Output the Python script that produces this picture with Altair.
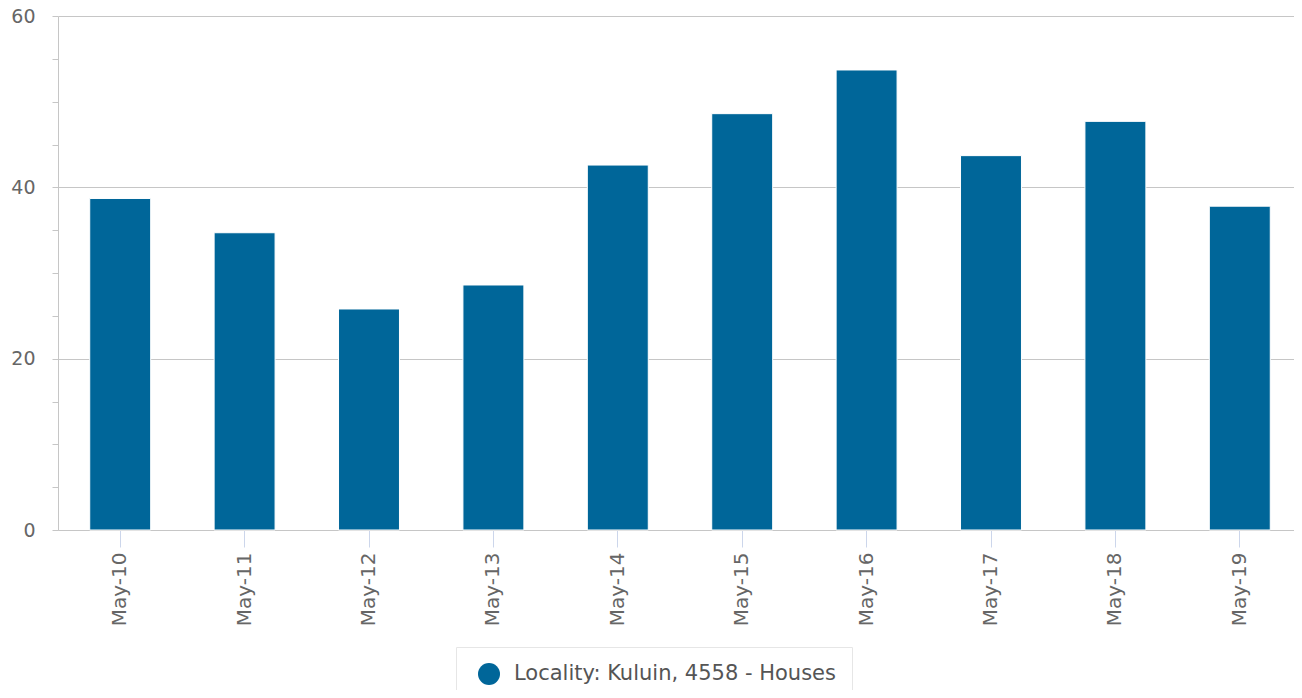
import altair as alt
import pandas as pd

months = ["May-10", "May-11", "May-12", "May-13", "May-14",
          "May-15", "May-16", "May-17", "May-18", "May-19"]
values = [38.7, 34.7, 25.8, 28.6, 42.6, 48.6, 53.7, 43.7, 47.7, 37.8]
series_name = "Locality: Kuluin, 4558 - Houses"
y_ticks = list(range(0, 65, 5))

df = pd.DataFrame({"month": months, "value": values, "series": [series_name] * len(months)})

FONT = "DejaVu Sans"

chart = alt.Chart(df).mark_bar(stroke="white", strokeWidth=1).encode(
    x=alt.X("month:N", sort=months,
            scale=alt.Scale(paddingInner=0.51, paddingOuter=0.255),
            axis=alt.Axis(labelAngle=-90, tickSize=17, tickColor="#ccd6eb",
                          domainColor="#c6c6c6", labelFontSize=20, labelColor="#666666",
                          labelFont=FONT, labelPadding=5, title=None, grid=False)),
    y=alt.Y("value:Q",
            scale=alt.Scale(domain=[0, 60], nice=False),
            axis=alt.Axis(values=y_ticks,
                          labelExpr="datum.value % 20 === 0 ? datum.label : ''",
                          gridOpacity={"condition": {"test": "datum.value % 20 === 0", "value": 1}, "value": 0},
                          gridColor="#c6c6c6", tickSize=6, tickColor="#c6c6c6",
                          domainColor="#c6c6c6", labelFontSize=19, labelColor="#666666",
                          labelFont=FONT, labelPadding=17, labelOverlap=False, title=None)),
    color=alt.Color("series:N",
                    scale=alt.Scale(range=["#006699"]),
                    legend=alt.Legend(orient="none", legendX=398, legendY=631, title=None,
                                      symbolType="circle", symbolSize=484, symbolStrokeWidth=0,
                                      labelFontSize=21, labelColor="#555555", labelFont=FONT,
                                      strokeColor="#e6e6e6", fillColor="white", padding=16,
                                      symbolOffset=6, labelOffset=14, labelLimit=600)),
).properties(
    width=1244, height=514,
    autosize=alt.AutoSizeParams(type="none"),
    padding={"left": 50, "top": 8, "right": -8, "bottom": 160},
).configure_view(stroke=None)

chart.save("out.html", embed_options={"renderer": "svg", "actions": False})
